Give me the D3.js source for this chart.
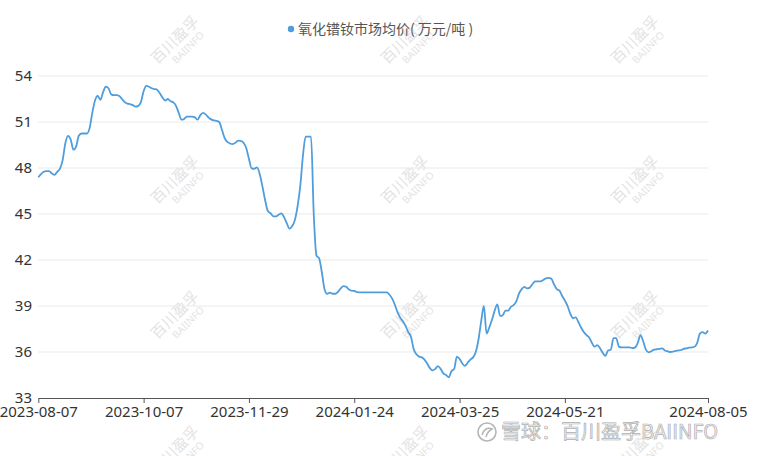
<!DOCTYPE html>
<html>
<head>
<meta charset="utf-8">
<script src="https://cdn.jsdelivr.net/npm/d3@7/dist/d3.min.js"></script>
<style>
  html, body { margin: 0; padding: 0; background: #fff; }
  svg { display: block; font-family: "Noto Sans", "Noto Sans CJK SC", sans-serif; }
</style>
</head>
<body>
<svg id="chart" width="760" height="456"></svg>
<script>
// ---- data ----
const seriesName = "氧化镨钕市场均价( 万元/吨 )";
const startDate = "2023-08-07";
const endDate = "2024-08-05";
// trading-calendar exceptions (China)
const holidays = ["2023-09-29","2023-10-02","2023-10-03","2023-10-04","2023-10-05","2023-10-06",
  "2024-01-01","2024-02-09","2024-02-12","2024-02-13","2024-02-14","2024-02-15","2024-02-16",
  "2024-04-04","2024-04-05","2024-05-01","2024-05-02","2024-05-03","2024-06-10"];
const makeupDays = ["2023-10-07","2023-10-08","2024-02-04","2024-02-18","2024-04-07","2024-04-28","2024-05-11"];
const xTickLabels = ["2023-08-07","2023-10-07","2023-11-29","2024-01-24","2024-03-25","2024-05-21","2024-08-05"];
const yTicks = [33, 36, 39, 42, 45, 48, 51, 54];
const prices = [
  47.4, 47.6, 47.75, 47.8, 47.8, 47.65, 47.55, 47.75, 47.95, 48.5,
  49.6, 50.1, 49.85, 49.2, 49.4, 50.1, 50.25, 50.25, 50.25, 50.6,
  51.6, 52.4, 52.7, 52.45, 52.95, 53.3, 53.2, 52.8, 52.75, 52.75,
  52.7, 52.5, 52.3, 52.2, 52.17, 52.1, 52.0, 52.05, 52.3, 53.0,
  53.35, 53.3, 53.2, 53.15, 53.1, 52.87, 52.6, 52.4, 52.5, 52.35,
  52.28, 52.05, 51.6, 51.15, 51.2, 51.35, 51.35, 51.35, 51.3, 51.15,
  51.45, 51.6, 51.5, 51.3, 51.17, 51.1, 51.08, 51.0, 50.5, 49.95,
  49.7, 49.6, 49.56, 49.65, 49.78, 49.77, 49.65, 49.3, 48.6, 47.98,
  47.95, 48.04, 47.6, 46.8, 45.9, 45.2, 45.05, 44.85, 44.85, 44.95,
  45.04, 44.8, 44.4, 44.05, 44.2, 44.6, 45.5, 46.8, 48.8, 50.04,
  50.04, 50.04, 45.0, 42.3, 42.1, 41.2, 40.1, 39.8, 39.87, 39.8,
  39.8, 39.93, 40.15, 40.3, 40.25, 40.08, 40.0, 39.98, 39.9, 39.89,
  39.89, 39.89, 39.89, 39.89, 39.89, 39.89, 39.89, 39.89, 39.89, 39.89,
  39.75, 39.5, 39.1, 38.6, 38.25, 38.0, 37.7, 37.3, 37.0, 36.2,
  35.85, 35.7, 35.65, 35.5, 35.25, 34.95, 34.8, 34.9, 35.08, 34.9,
  34.6, 34.5, 34.35, 34.75, 34.9, 35.7, 35.55, 35.25, 35.1, 35.3,
  35.5, 35.65, 36.0, 36.8, 38.0, 39.0, 37.2, 37.6, 38.1, 38.7,
  39.1, 38.35, 38.4, 38.7, 38.7, 38.95, 39.05, 39.3, 39.8, 40.1,
  40.25, 40.15, 40.2, 40.43, 40.6, 40.61, 40.61, 40.7, 40.8, 40.84,
  40.78, 40.4, 40.1, 40.0, 39.65, 39.35, 39.0, 38.5, 38.2, 38.26,
  37.95, 37.6, 37.3, 37.1, 36.95, 36.6, 36.35, 36.45, 36.25, 35.95,
  35.75, 36.1, 36.15, 36.9, 36.9, 36.35, 36.3, 36.3, 36.3, 36.3,
  36.25, 36.3, 36.6, 37.1, 36.7, 36.15, 35.98, 36.05, 36.15, 36.18,
  36.2, 36.24, 36.1, 36.05, 36.0, 36.02, 36.08, 36.1, 36.13, 36.2,
  36.24, 36.28, 36.3, 36.34, 36.6, 37.2, 37.3, 37.2, 37.4
];
const watermarkMain = "百川盈孚";
const watermarkSub = "BAIINFO";
const footerText = "雪球：百川盈孚BAIINFO";

// ---- build trading-day categories ----
const fmt = d3.timeFormat("%Y-%m-%d");
const parse = d3.timeParse("%Y-%m-%d");
const holidaySet = new Set(holidays);
const makeupSet = new Set(makeupDays);
const dates = d3.timeDay.range(parse(startDate), d3.timeDay.offset(parse(endDate), 1))
  .map(fmt)
  .filter(s => {
    const wd = parse(s).getDay();
    if (makeupSet.has(s)) return true;
    if (wd === 0 || wd === 6) return false;
    return !holidaySet.has(s);
  });
const n = Math.min(dates.length, prices.length);
const data = d3.range(n).map(i => ({ date: dates[i], value: prices[i] }));

// ---- layout ----
const svg = d3.select("#chart");
const W = 760, H = 456;
const margin = { left: 38.3, right: 52, top: 76, bottom: 58 };
const x = d3.scalePoint().domain(data.map(d => d.date)).range([margin.left, W - margin.right]);
const y = d3.scaleLinear().domain([33, 54]).range([H - margin.bottom, margin.top]);

// watermarks
const wmX = [180, 410, 640];
const wmY = [45, 185, 320, 455];
const wm = svg.append("g").attr("fill", "#e3e3e3");
wmY.forEach(cy => wmX.forEach(cx => {
  const g = wm.append("g").attr("transform", `translate(${cx},${cy}) rotate(-45)`);
  g.append("text").attr("text-anchor", "middle").attr("y", -2)
    .attr("font-size", 15).attr("font-family", "Noto Sans CJK SC").text(watermarkMain);
  g.append("text").attr("text-anchor", "middle").attr("y", 11).attr("x", 4)
    .attr("font-size", 10).text(watermarkSub);
}));

// grid
svg.append("g").selectAll("line").data(yTicks.filter(t => t !== 33)).join("line")
  .attr("x1", margin.left).attr("x2", W - margin.right)
  .attr("y1", d => y(d)).attr("y2", d => y(d))
  .attr("stroke", "#e9e9e9").attr("stroke-width", 1);

// y labels
svg.append("g").selectAll("text").data(yTicks).join("text")
  .attr("x", 32).attr("y", d => y(d)).attr("dy", "0.35em")
  .attr("text-anchor", "end").attr("font-size", 15).attr("fill", "#333")
  .text(d => d);

// x axis
const xAxis = svg.append("g").attr("transform", `translate(0,${y(33)})`)
  .call(d3.axisBottom(x).tickValues(xTickLabels).tickSize(5).tickPadding(3).tickSizeOuter(0));
xAxis.select(".domain").attr("stroke", "#555");
xAxis.selectAll(".tick line").attr("stroke", "#555");
xAxis.selectAll("text").attr("font-size", 15).attr("fill", "#333")
  .attr("font-family", "Noto Sans, sans-serif");

// line
const line = d3.line().x(d => x(d.date)).y(d => y(d.value)).curve(d3.curveMonotoneX);
svg.append("path").datum(data).attr("d", line)
  .attr("fill", "none").attr("stroke", "#4f9ddc").attr("stroke-width", 1.8)
  .attr("stroke-linejoin", "round");

// legend
const lg = svg.append("g").attr("transform", "translate(291,29)");
lg.append("circle").attr("r", 3.2).attr("fill", "#4f9ddc");
lg.append("text").attr("x", 7).attr("dy", "0.35em").attr("font-size", 14)
  .attr("fill", "#555").attr("font-family", "Noto Sans CJK SC").text(seriesName);

// footer watermark (xueqiu)
const ft = svg.append("g").attr("transform", "translate(487,432)");
ft.append("circle").attr("r", 9).attr("fill", "none").attr("stroke", "#b5b5b5").attr("stroke-width", 1.6);
ft.append("path").attr("d", "M-5,3 Q-2,-6 5,-3 Q0,0 -1,5").attr("fill", "none").attr("stroke", "#b5b5b5").attr("stroke-width", 1.5);
ft.append("text").attr("x", 14).attr("dy", "0.36em").attr("font-size", 20)
  .attr("font-family", "Noto Sans CJK SC").attr("fill", "#f2f2f2")
  .attr("stroke", "#b0b0b0").attr("stroke-width", 0.7).text(footerText);
</script>
</body>
</html>
